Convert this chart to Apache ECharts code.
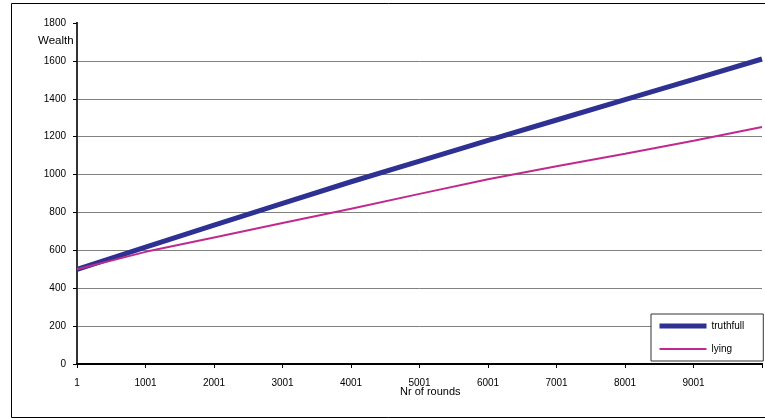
<!DOCTYPE html>
<html>
<head>
<meta charset="utf-8">
<script src="https://cdn.jsdelivr.net/npm/echarts@6/dist/echarts.min.js"></script>
<style>html,body{margin:0;padding:0;background:#fff}#c{width:765px;height:418px}</style>
</head>
<body>
<div id="c"></div>
<script>
var rounds = [1, 1001, 2001, 3001, 4001, 5001, 6001, 7001, 8001, 9001, 10000];
var truthfull = [500, 617, 733, 848, 962, 1071, 1180, 1288, 1395, 1502, 1610];
var lying = [500, 592, 668, 744, 820, 898, 975, 1044, 1110, 1178, 1251];
var yTicks = [0, 200, 400, 600, 800, 1000, 1200, 1400, 1600, 1800];

function pairs(xs, ys) { return xs.map(function (x, i) { return [x, ys[i]]; }); }

var font = 'Liberation Sans, Arial, sans-serif';
var chart = echarts.init(document.getElementById('c'), null, {renderer: 'canvas'});
chart.setOption({
  animation: false,
  backgroundColor: '#fff',
  grid: {left: 77, right: 2, top: 23, bottom: 54, containLabel: false},
  xAxis: [{
    type: 'value', min: 0, max: 10000, interval: 1000,
    axisLine: {show: true, onZero: false, lineStyle: {color: '#000', width: 2}},
    axisTick: {show: true, length: 4, lineStyle: {color: '#000', width: 1}},
    axisLabel: {margin: 14, fontFamily: font, fontSize: 10, color: '#000',
      formatter: function (v) { return v >= 10000 ? '' : String(v + 1); }},
    splitLine: {show: false}
  }, {
    type: 'value', position: 'top', min: 0, max: 10000,
    axisLine: {show: true, lineStyle: {color: '#000', width: 2}},
    axisTick: {show: false}, axisLabel: {show: false}, splitLine: {show: false}
  }],
  yAxis: [{
    type: 'value', min: yTicks[0], max: yTicks[yTicks.length - 1], interval: 200,
    axisLine: {show: true, lineStyle: {color: '#000', width: 2}},
    axisTick: {show: true, length: 4, lineStyle: {color: '#000', width: 1}},
    axisLabel: {margin: 11, fontFamily: font, fontSize: 10, color: '#000',
      formatter: function (v) { return String(v); }},
    splitLine: {show: true, showMinLine: false, showMaxLine: false, lineStyle: {color: '#808080', width: 1}}
  }, {
    type: 'value', position: 'right', min: 0, max: 1800,
    axisLine: {show: true, lineStyle: {color: '#333', width: 2}},
    axisTick: {show: false}, axisLabel: {show: false}, splitLine: {show: false}
  }],
  legend: {
    left: 651, top: 314, orient: 'vertical',
    backgroundColor: '#fff', borderColor: '#333', borderWidth: 1,
    padding: [7, 19, 7, 6], itemWidth: 47, itemHeight: 10, itemGap: 13,
    itemStyle: {opacity: 0},
    lineStyle: {width: 'inherit'},
    textStyle: {fontFamily: font, fontSize: 10, color: '#000'},
    data: ['truthfull', 'lying']
  },
  series: [{
    name: 'truthfull', type: 'line', symbol: 'none', data: pairs(rounds, truthfull),
    lineStyle: {color: '#2e3192', width: 5}, itemStyle: {color: '#2e3192'}, z: 3
  }, {
    name: 'lying', type: 'line', symbol: 'none', data: pairs(rounds, lying),
    lineStyle: {color: '#bf2a8e', width: 2}, itemStyle: {color: '#bf2a8e'}, z: 4
  }],
  graphic: [
    {type: 'rect', left: 9, top: 1, shape: {width: 755, height: 414}, silent: true, z: -10,
      style: {fill: 'none', stroke: '#000', lineWidth: 1}},
    {type: 'text', left: 38, top: 35, style: {text: 'Wealth', font: '11.5px ' + font, fill: '#000'}},
    {type: 'text', left: 400, top: 386, style: {text: 'Nr of rounds', font: '11px ' + font, fill: '#000'}}
  ]
});
</script>
</body>
</html>
